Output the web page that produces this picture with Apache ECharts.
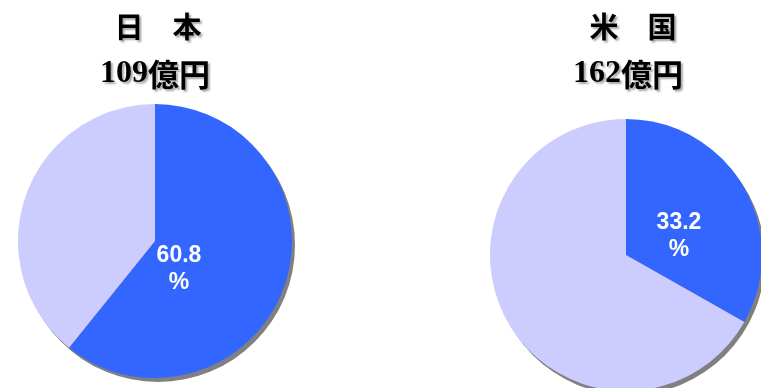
<!DOCTYPE html>
<html>
<head>
<meta charset="utf-8">
<script src="https://cdn.jsdelivr.net/npm/echarts@6/dist/echarts.min.js"></script>
<style>
  html, body { margin: 0; padding: 0; background: #fff; }
  #chart { width: 761px; height: 388px; }
</style>
</head>
<body>
<div id="chart"></div>
<script>
// 地域別データ
var regions = ['日　本', '米　国'];
var totals = ['109', '162'];          // 億円
var shareValues = [60.8, 33.2];       // %
var restValues = [39.2, 66.8];

var blue = '#3366FF';
var lilac = '#CCCCFF';
var shadowGrey = '#808080';

var pieCenters = [[155, 241], [626, 255]];
var pieRadius = [137, 136];
var labelShift = [[24, 28], [53, -19]];
var titleX = [[153, 628], [150, 623]];

var myChart = echarts.init(document.getElementById('chart'));

var textShadow = {
    textShadowColor: 'rgba(0,0,0,0.35)',
    textShadowOffsetX: 2,
    textShadowOffsetY: 2,
    textShadowBlur: 2
};

var titles = [];
var series = [];
for (var i = 0; i < regions.length; i++) {
    titles.push({
        text: regions[i],
        left: titleX[0][i],
        top: 7,
        textAlign: 'center',
        textStyle: Object.assign({
            fontFamily: 'Noto Sans CJK JP',
            fontWeight: 'bold',
            fontSize: 29,
            color: '#000'
        }, textShadow)
    });
    titles.push({
        text: '{n|' + totals[i] + '}{k|億円}',
        left: titleX[1][i],
        top: 53,
        textAlign: 'center',
        textStyle: {
            rich: {
                n: Object.assign({
                    fontFamily: 'Liberation Serif',
                    fontWeight: 'bold',
                    fontSize: 32,
                    color: '#000'
                }, textShadow),
                k: Object.assign({
                    fontFamily: 'Noto Sans CJK JP',
                    fontWeight: 'bold',
                    fontSize: 31,
                    color: '#000'
                }, textShadow)
            }
        }
    });
    // 影
    series.push({
        type: 'pie',
        silent: true,
        z: 1,
        center: [pieCenters[i][0] + 3, pieCenters[i][1] + 4],
        radius: pieRadius[i],
        label: { show: false },
        labelLine: { show: false },
        itemStyle: { color: shadowGrey },
        data: [shareValues[i] + restValues[i]]
    });
    (function (idx) {
        series.push({
            type: 'pie',
            z: 2,
            center: pieCenters[idx],
            radius: pieRadius[idx],
            startAngle: 90,
            clockwise: true,
            labelLine: { show: false },
            label: {
                show: true,
                position: 'inside',
                formatter: function (p) { return p.value.toFixed(1) + '\n%'; },
                color: '#fff',
                fontFamily: 'Liberation Sans',
                fontWeight: 'bold',
                fontSize: 23,
                lineHeight: 27
            },
            labelLayout: function (p) {
                return {
                    x: pieCenters[idx][0] + labelShift[idx][0],
                    y: pieCenters[idx][1] + labelShift[idx][1],
                    align: 'center',
                    verticalAlign: 'middle'
                };
            },
            data: [
                { value: shareValues[idx], itemStyle: { color: blue } },
                { value: restValues[idx], itemStyle: { color: lilac }, label: { show: false } }
            ]
        });
    })(i);
}

var option = {
    animation: false,
    title: titles,
    series: series
};
myChart.setOption(option);
</script>
</body>
</html>
